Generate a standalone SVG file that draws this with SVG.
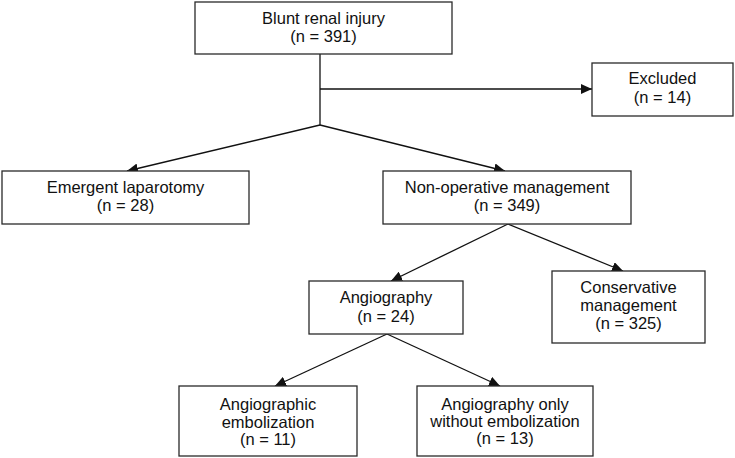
<svg xmlns="http://www.w3.org/2000/svg" width="735" height="458" viewBox="0 0 735 458">
<defs>
<marker id="ah" viewBox="0 0 11 10" refX="11" refY="5" markerWidth="11" markerHeight="10" markerUnits="userSpaceOnUse" orient="auto">
<path d="M0,0 L11,5 L0,10 Z" fill="#111"/>
</marker>
<style>
rect{fill:#fff;stroke:#2a2a2a;stroke-width:1.3}
text{font-family:"Liberation Sans",Arial,sans-serif;font-size:16.5px;fill:#111;text-anchor:middle}
.c{fill:none;stroke:#111;stroke-width:1.3}
</style>
</defs>
<rect x="0" y="0" width="735" height="458" style="stroke:none"/>
<g id="connectors">
<path class="c" d="M320,54 V125"/>
<path class="c" d="M320,89 H592" marker-end="url(#ah)"/>
<path class="c" d="M320,125 L127,171" marker-end="url(#ah)"/>
<path class="c" d="M320,125 L505,171" marker-end="url(#ah)"/>
<path class="c" d="M508,224 L391,281" marker-end="url(#ah)"/>
<path class="c" d="M508,224 L623,271" marker-end="url(#ah)"/>
<path class="c" d="M387,334 L275,386" marker-end="url(#ah)"/>
<path class="c" d="M387,334 L500,386" marker-end="url(#ah)"/>
</g>
<g id="blunt">
<rect x="195" y="2" width="257" height="52"/>
<text x="323.5" y="24">Blunt renal injury</text>
<text x="323.5" y="42">(n = 391)</text>
</g>
<g id="excluded">
<rect x="592" y="63" width="141" height="53"/>
<text x="662.5" y="84">Excluded</text>
<text x="662.5" y="103">(n = 14)</text>
</g>
<g id="emergent">
<rect x="2" y="171" width="247" height="53"/>
<text x="125.5" y="193">Emergent laparotomy</text>
<text x="125.5" y="211">(n = 28)</text>
</g>
<g id="nonop">
<rect x="383" y="171" width="248" height="53"/>
<text x="507" y="193">Non-operative management</text>
<text x="507" y="211">(n = 349)</text>
</g>
<g id="angiography">
<rect x="309" y="281" width="154" height="53"/>
<text x="386" y="303">Angiography</text>
<text x="386" y="322">(n = 24)</text>
</g>
<g id="conservative">
<rect x="552" y="271" width="153" height="72"/>
<text x="628.5" y="293">Conservative</text>
<text x="628.5" y="311">management</text>
<text x="628.5" y="329">(n = 325)</text>
</g>
<g id="embolization">
<rect x="179" y="386" width="178" height="70"/>
<text x="268" y="410">Angiographic</text>
<text x="268" y="428">embolization</text>
<text x="268" y="445">(n = 11)</text>
</g>
<g id="angioonly">
<rect x="417" y="386" width="176" height="70"/>
<text x="505" y="410">Angiography only</text>
<text x="505" y="427">without embolization</text>
<text x="505" y="444">(n = 13)</text>
</g>
</svg>
